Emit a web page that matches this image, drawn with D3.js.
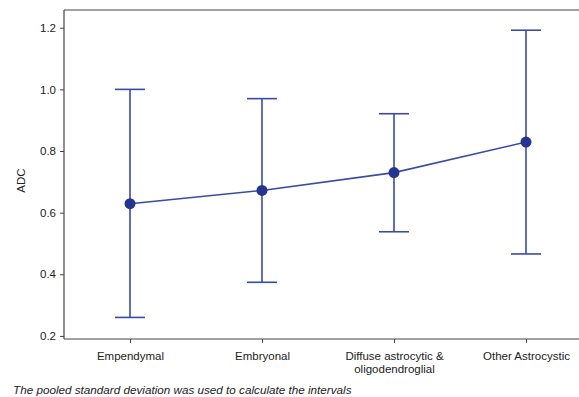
<!DOCTYPE html>
<html>
<head>
<meta charset="utf-8">
<script src="https://cdn.jsdelivr.net/npm/d3@7"></script>
<style>
  body { margin: 0; background: #fff; }
  svg { display: block; font-family: "Liberation Sans", Arial, sans-serif; }
</style>
</head>
<body>
<div id="chart"></div>
<script>
// Data
const categories = ["Empendymal", "Embryonal", "Diffuse astrocytic &\noligodendroglial", "Other Astrocystic"];
const means = [0.629, 0.672, 0.730, 0.829];
const lower = [0.260, 0.374, 0.538, 0.466];
const upper = [1.000, 0.970, 0.921, 1.192];
const yTicks = [0.2, 0.4, 0.6, 0.8, 1.0, 1.2];

const width = 579;
const height = 397;
const plotLeft = 64, plotTop = 10, plotBottom = 339, plotRight = 592;

const lineColor = "#3a4aa6";
const dotColor = "#25358f";

const svg = d3.select("#chart")
    .append("svg")
    .attr("width", width)
    .attr("height", height);

// Scales
const x = d3.scalePoint()
    .domain(categories)
    .range([plotLeft, plotRight])
    .padding(0.5);

const y = d3.scaleLinear()
    .domain([0.19, 1.2576])
    .range([plotBottom, plotTop]);

const rows = categories.map((c, i) => ({ cat: c, mean: means[i], lo: lower[i], hi: upper[i] }));

// Frame: top line only plus axes
svg.append("line")
    .attr("x1", plotLeft).attr("x2", width)
    .attr("y1", plotTop).attr("y2", plotTop)
    .attr("stroke", "#444").attr("stroke-width", 1.2);

// Y axis
const yAxis = svg.append("g")
    .attr("transform", `translate(${plotLeft},0)`)
    .call(d3.axisLeft(y).tickValues(yTicks).tickFormat(d3.format(".1f")).tickSize(4).tickSizeOuter(0));
yAxis.select(".domain").attr("stroke", "#444").attr("stroke-width", 1.2)
    .attr("d", `M0,${plotTop}V${plotBottom}`);
yAxis.selectAll(".tick line").attr("stroke", "#444");
yAxis.selectAll(".tick text").attr("font-size", 11.5).attr("fill", "#222").attr("dx", -1);

// X axis
const xAxis = svg.append("g")
    .attr("transform", `translate(0,${plotBottom})`)
    .call(d3.axisBottom(x).tickSize(4).tickSizeOuter(0).tickFormat(""));
xAxis.select(".domain").attr("stroke", "#444").attr("stroke-width", 1.2)
    .attr("d", `M${plotLeft},0H${width}`);
xAxis.selectAll(".tick line").attr("stroke", "#444");

// multi-line category labels
xAxis.selectAll(".tick").each(function(d) {
    const t = d3.select(this).append("text")
        .attr("fill", "#222")
        .attr("font-size", 11.5)
        .attr("text-anchor", "middle")
        .attr("y", 21);
    d.split("\n").forEach((part, i) => {
        t.append("tspan").attr("x", 0).attr("dy", i === 0 ? 0 : 13).text(part);
    });
});

// Y label
svg.append("text")
    .attr("transform", `translate(25,${(plotTop + plotBottom) / 2 + 6}) rotate(-90)`)
    .attr("text-anchor", "middle")
    .attr("font-size", 11.5)
    .attr("fill", "#222")
    .text("ADC");

// Error bars
const capHalf = 15;
svg.selectAll(".err")
    .data(rows)
    .join("line")
    .attr("x1", d => x(d.cat)).attr("x2", d => x(d.cat))
    .attr("y1", d => y(d.lo)).attr("y2", d => y(d.hi))
    .attr("stroke", lineColor).attr("stroke-width", 1.6);

svg.selectAll(".capHi")
    .data(rows)
    .join("line")
    .attr("x1", d => x(d.cat) - capHalf).attr("x2", d => x(d.cat) + capHalf)
    .attr("y1", d => y(d.hi)).attr("y2", d => y(d.hi))
    .attr("stroke", lineColor).attr("stroke-width", 1.6);

svg.selectAll(".capLo")
    .data(rows)
    .join("line")
    .attr("x1", d => x(d.cat) - capHalf).attr("x2", d => x(d.cat) + capHalf)
    .attr("y1", d => y(d.lo)).attr("y2", d => y(d.lo))
    .attr("stroke", lineColor).attr("stroke-width", 1.6);

// Mean line
svg.append("path")
    .datum(rows)
    .attr("fill", "none")
    .attr("stroke", lineColor)
    .attr("stroke-width", 1.6)
    .attr("d", d3.line().x(d => x(d.cat)).y(d => y(d.mean)));

// Mean dots
svg.selectAll(".dot")
    .data(rows)
    .join("circle")
    .attr("cx", d => x(d.cat))
    .attr("cy", d => y(d.mean))
    .attr("r", 5.5)
    .attr("fill", dotColor);

// Footnote
svg.append("text")
    .attr("x", 13)
    .attr("y", 394)
    .attr("font-size", 11.7)
    .attr("font-style", "italic")
    .attr("fill", "#222")
    .text("The pooled standard deviation was used to calculate the intervals");
</script>
</body>
</html>
